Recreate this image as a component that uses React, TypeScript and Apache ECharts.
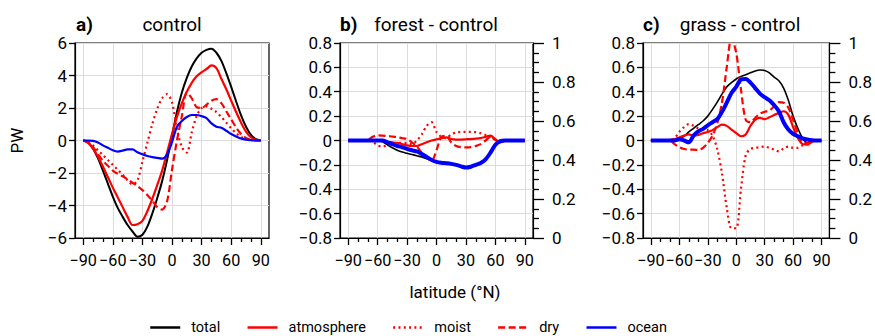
import React, { useEffect, useRef } from "react";
import * as echarts from "echarts";

const LAT = [-90, -85, -80, -75, -70, -65, -60, -55, -50, -45, -40, -35, -30, -25, -20, -15, -10, -5, 0, 5, 10, 15, 20, 25, 30, 35, 40, 45, 50, 55, 60, 65, 70, 75, 80, 85, 90];
const X_TICKS = [-90, -60, -30, 0, 30, 60, 90];
const X_MINOR = [-80, -70, -50, -40, -20, -10, 10, 20, 40, 50, 70, 80];
const TITLES = ["control", "forest - control", "grass - control"];
const LETTERS = ["a)", "b)", "c)"];
const NAMES = ["total", "atmosphere", "moist", "dry", "ocean"];

// panel a: control
const A_TOTAL = [0, -0.12, -0.5, -1.1, -1.85, -2.65, -3.45, -4.15, -4.7, -5.2, -5.6, -5.92, -5.8, -5.3, -4.5, -3.55, -2.5, -1.2, 0.25, 1.75, 2.95, 3.85, 4.55, 5.05, 5.4, 5.58, 5.65, 5.4, 4.9, 4.15, 3.3, 2.4, 1.55, 0.85, 0.35, 0.08, 0];
const A_ATM = [0, -0.15, -0.5, -1.0, -1.6, -2.25, -2.9, -3.5, -4.1, -4.7, -5.2, -5.15, -4.95, -4.35, -3.6, -2.75, -1.85, -0.75, 0.4, 1.45, 2.3, 3.0, 3.55, 3.95, 4.2, 4.4, 4.62, 4.45, 3.8, 3.15, 2.45, 1.75, 1.1, 0.55, 0.2, 0.05, 0];
const A_MOIST = [0, -0.08, -0.3, -0.6, -0.9, -1.2, -1.5, -1.8, -2.1, -2.45, -2.7, -2.45, -1.3, -0.15, 1.0, 1.95, 2.6, 2.85, 2.35, 0.7, -0.4, -0.75, 0.5, 1.5, 2.0, 2.1, 1.95, 1.75, 1.45, 1.1, 0.75, 0.45, 0.22, 0.08, 0.02, 0, 0];
const A_DRY = [0, -0.1, -0.4, -0.85, -1.25, -1.55, -1.85, -2.05, -2.2, -2.4, -2.6, -2.8, -3.05, -3.35, -3.7, -4.1, -4.25, -3.75, -1.8, 0.0, 1.5, 2.95, 2.6, 2.05, 2.0, 2.2, 2.45, 2.55, 2.3, 1.8, 1.3, 0.8, 0.4, 0.15, 0.04, 0, 0];
const A_OCEAN = [0, 0, -0.02, -0.12, -0.3, -0.45, -0.6, -0.68, -0.62, -0.55, -0.55, -0.72, -0.85, -0.95, -1.02, -1.07, -1.12, -0.85, -0.1, 0.85, 1.2, 1.45, 1.57, 1.57, 1.5, 1.38, 1.05, 0.85, 0.78, 0.6, 0.4, 0.25, 0.12, 0.05, 0.02, 0, 0];

// panel b: forest - control
const B_TOTAL = [0, 0, 0, 0, 0, 0, 0, -0.01, -0.035, -0.06, -0.08, -0.095, -0.105, -0.115, -0.125, -0.135, -0.15, -0.165, -0.178, -0.182, -0.185, -0.188, -0.2, -0.21, -0.222, -0.215, -0.2, -0.18, -0.15, -0.09, -0.03, -0.005, 0, 0, 0, 0, 0];
const B_ATM = [0, 0, 0, 0, 0, 0, 0.003, 0, -0.01, -0.015, -0.02, -0.03, -0.04, -0.045, -0.045, -0.03, -0.015, 0, 0.01, 0.018, 0.025, 0.012, 0.008, 0.008, 0.01, 0.012, 0.015, 0.02, 0.03, 0.04, 0.01, -0.015, 0, 0, 0, 0, 0];
const B_MOIST = [0, 0, 0, 0, 0, -0.01, -0.04, -0.05, -0.04, -0.03, -0.02, -0.02, -0.02, -0.03, 0.0, 0.05, 0.12, 0.15, 0.07, 0.03, 0.02, 0.05, 0.065, 0.07, 0.07, 0.07, 0.068, 0.06, 0.045, 0.03, 0.01, 0, 0, 0, 0, 0, 0];
const B_DRY = [0, 0, 0, 0, 0.005, 0.03, 0.042, 0.04, 0.037, 0.033, 0.028, 0.02, 0.012, -0.015, -0.05, -0.1, -0.14, -0.165, -0.08, 0.03, 0.038, -0.015, -0.045, -0.055, -0.057, -0.055, -0.045, -0.03, 0.0, 0.03, 0.005, -0.01, 0, 0, 0, 0, 0];
const B_OCEAN = [0, 0, 0, 0, 0, 0, 0, 0, -0.015, -0.03, -0.045, -0.055, -0.068, -0.08, -0.09, -0.11, -0.135, -0.16, -0.175, -0.183, -0.187, -0.192, -0.2, -0.212, -0.222, -0.215, -0.2, -0.185, -0.155, -0.1, -0.035, -0.005, 0, 0, 0, 0, 0];

// panel c: grass - control
const C_TOTAL = [0, 0, 0, 0, 0, 0, 0.01, 0.035, 0.07, 0.1, 0.13, 0.16, 0.2, 0.255, 0.315, 0.38, 0.44, 0.475, 0.505, 0.525, 0.54, 0.555, 0.57, 0.578, 0.575, 0.555, 0.52, 0.49, 0.43, 0.33, 0.2, 0.1, 0.02, -0.02, -0.005, 0, 0];
const C_ATM = [0, 0, 0, 0, 0.005, 0.01, 0.025, 0.04, 0.05, 0.04, 0.045, 0.06, 0.07, 0.085, 0.11, 0.13, 0.12, 0.09, 0.06, 0.035, 0.05, 0.12, 0.17, 0.185, 0.175, 0.19, 0.21, 0.225, 0.24, 0.21, 0.11, 0.02, -0.03, -0.035, -0.01, 0, 0];
const C_MOIST = [0, 0, 0, 0, 0, 0.02, 0.07, 0.11, 0.135, 0.12, 0.1, 0.09, 0.085, 0.04, -0.07, -0.27, -0.55, -0.72, -0.72, -0.4, -0.12, -0.07, -0.06, -0.055, -0.05, -0.06, -0.075, -0.09, -0.065, -0.05, -0.06, -0.06, -0.04, -0.02, 0, 0, 0];
const C_DRY = [0, 0, 0, 0, 0, -0.03, -0.055, -0.07, -0.075, -0.075, -0.078, -0.06, -0.02, 0.04, 0.14, 0.31, 0.6, 0.84, 0.72, 0.42, 0.17, 0.15, 0.185, 0.22, 0.235, 0.245, 0.28, 0.315, 0.31, 0.27, 0.17, 0.06, -0.02, -0.025, -0.01, 0, 0];
const C_OCEAN = [0, 0, 0, 0, 0, 0, 0.01, 0.0, -0.015, 0.04, 0.075, 0.095, 0.125, 0.15, 0.175, 0.235, 0.31, 0.39, 0.44, 0.5, 0.505, 0.475, 0.43, 0.385, 0.355, 0.33, 0.29, 0.24, 0.15, 0.09, 0.055, 0.035, 0.018, 0.008, 0.002, 0, 0];

const PANELS = [
  [A_TOTAL, A_ATM, A_MOIST, A_DRY, A_OCEAN],
  [B_TOTAL, B_ATM, B_MOIST, B_DRY, B_OCEAN],
  [C_TOTAL, C_ATM, C_MOIST, C_DRY, C_OCEAN],
];

const FONT = "Roboto";
const RED = "#ff0000";
const BLUE = "#0000ff";
const TICK_FS = 17;
const XTICK_FS = 16.2;

const fmt = (v: number) => {
  const s = String(parseFloat(Number(v).toFixed(2)));
  return s.startsWith("-") ? "\u2212" + s.slice(1) : s;
};

export default function App() {
  const ref = useRef<HTMLDivElement>(null);
  useEffect(() => {
    if (!ref.current) return;
    const chart = echarts.init(ref.current, null, { renderer: "svg" });
    const grids = [
      { left: 75, top: 43, width: 194, height: 195 },
      { left: 340, top: 43, width: 193, height: 195 },
      { left: 643, top: 43, width: 194, height: 195 },
    ].map((g) => ({ ...g, show: true, borderColor: "#000", borderWidth: 1.2, backgroundColor: "transparent" }));

    const xMin = -98.3, xMax = 98.3;
    const xAxis: any[] = [];
    for (let i = 0; i < 3; i++) {
      xAxis.push({
        type: "value", gridIndex: i, min: xMin, max: xMax, position: "bottom",
        axisLine: { show: true, onZero: false, lineStyle: { color: "#000", width: 1.2 } },
        axisTick: { show: true, customValues: X_TICKS, length: 7, lineStyle: { color: "#000", width: 1.3 } },
        axisLabel: { customValues: X_TICKS, formatter: fmt, fontSize: XTICK_FS, fontFamily: FONT, color: "#000", margin: 14 },
        splitLine: { show: true, lineStyle: { color: "#dcdcdc", width: 1 } },
      });
      xAxis.push({
        type: "value", gridIndex: i, min: xMin, max: xMax, position: "bottom",
        axisLine: { show: false, onZero: false },
        axisTick: { show: true, customValues: X_MINOR, length: 4, lineStyle: { color: "#000", width: 1.3 } },
        axisLabel: { show: false },
        splitLine: { show: false },
      });
    }

    const yLeft = (i: number, min: number, max: number, interval: number) => ({
      type: "value", gridIndex: i, min, max, interval, position: "left",
      axisLine: { show: true, onZero: false, lineStyle: { color: "#000", width: 1.2 } },
      axisTick: { show: true, length: 6, lineStyle: { color: "#000", width: 1.3 } },
      axisLabel: { formatter: fmt, fontSize: TICK_FS, fontFamily: FONT, color: "#000", margin: 8 },
      splitLine: { show: true, lineStyle: { color: "#dcdcdc", width: 1 } },
    });
    const yRight = (i: number) => ({
      type: "value", gridIndex: i, min: 0, max: 1, interval: 0.2, position: "right",
      axisLine: { show: true, onZero: false, lineStyle: { color: "#000", width: 1.2 } },
      axisTick: { show: true, length: 11, lineStyle: { color: "#000", width: 1.3 } },
      minorTick: { show: true, splitNumber: 4, length: 6, lineStyle: { color: "#000", width: 1.3 } },
      axisLabel: { formatter: fmt, fontSize: TICK_FS, fontFamily: FONT, color: "#000", margin: 19 },
      splitLine: { show: false },
    });
    const yAxis: any[] = [
      { ...yLeft(0, -6, 6, 2), name: "PW", nameLocation: "middle", nameGap: 50, nameTextStyle: { fontSize: 17, fontFamily: FONT, color: "#000" } },
      yLeft(1, -0.8, 0.8, 0.2),
      yRight(1),
      yLeft(2, -0.8, 0.8, 0.2),
      yRight(2),
    ];
    const yIdx = [0, 1, 3];

    const series: any[] = [];
    PANELS.forEach((vals, p) => {
      const styles = [
        { color: "#000", width: p === 0 ? 2 : 1.6, type: "solid" },
        { color: RED, width: 2.2, type: "solid" },
        { color: RED, width: 2.2, type: [2, 3.3] },
        { color: RED, width: 2.2, type: [7, 3.5] },
        { color: BLUE, width: p === 0 ? 2.2 : 4, type: "solid" },
      ];
      vals.forEach((v, k) => {
        series.push({
          type: "line", name: NAMES[k], xAxisIndex: p * 2, yAxisIndex: yIdx[p],
          data: LAT.map((x, i) => [x, v[i]]),
          showSymbol: false, symbol: "none", smooth: 0.3, clip: true,
          lineStyle: styles[k], itemStyle: { color: styles[k].color },
          emphasis: { disabled: true },
        });
      });
    });

    const centers = [172, 436, 740];
    const lefts = [76, 340, 643];
    const graphic: any[] = [];
    for (let i = 0; i < 3; i++) {
      graphic.push({ type: "text", x: lefts[i], y: 24, style: { text: LETTERS[i], fontSize: 19, fontWeight: "bold", fontFamily: FONT, fill: "#000", align: "left", verticalAlign: "middle" } });
      graphic.push({ type: "text", x: centers[i], y: 24, style: { text: TITLES[i], fontSize: 19, fontFamily: FONT, fill: "#000", align: "center", verticalAlign: "middle" } });
    }
    graphic.push({ type: "text", x: 455, y: 292, style: { text: "latitude (°N)", fontSize: 17, fontFamily: FONT, fill: "#000", align: "center", verticalAlign: "middle" } });

    chart.setOption({
      animation: false,
      grid: grids,
      xAxis,
      yAxis,
      series,
      graphic,
      legend: {
        data: NAMES, left: 149, top: 320, padding: 0, itemWidth: 30, itemHeight: 14, itemGap: 26,
        itemStyle: { opacity: 0, borderWidth: 0 },
        lineStyle: { width: 2.5 },
        textStyle: { fontSize: 14.5, fontFamily: FONT, color: "#000", padding: [0, 0, 0, 6] },
        selectedMode: false,
      },
    });
    return () => chart.dispose();
  }, []);
  return <div ref={ref} style={{ position: "absolute", left: 0, top: 0, width: 875, height: 336 }} />;
}
